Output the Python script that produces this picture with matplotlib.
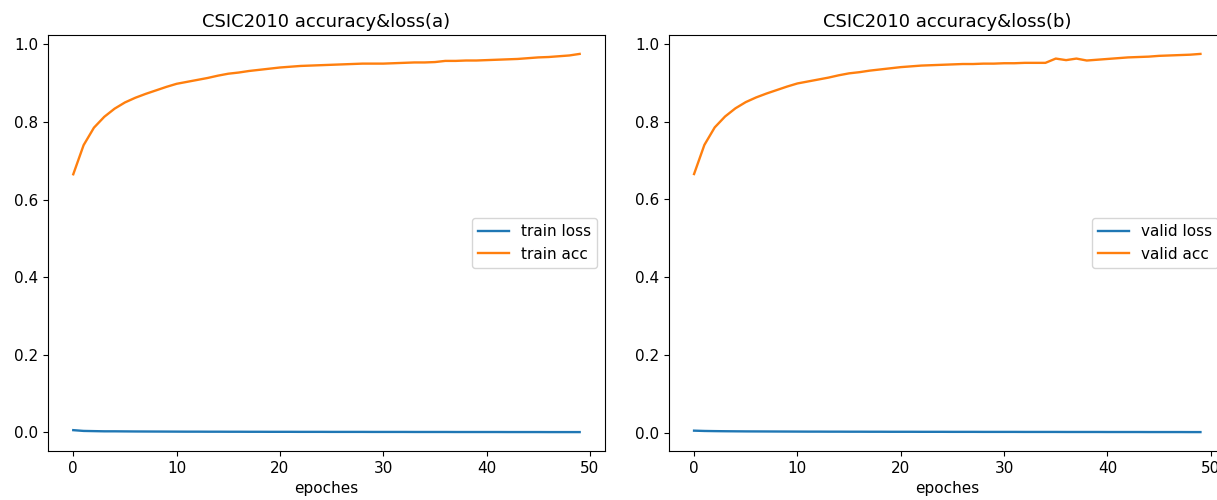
import matplotlib
matplotlib.use('Agg')
import matplotlib.pyplot as plt

epochs = list(range(50))

train_acc = [0.665, 0.740, 0.785, 0.813, 0.834, 0.850, 0.862, 0.872, 0.881, 0.890,
             0.898, 0.903, 0.908, 0.913, 0.919, 0.924, 0.927, 0.931, 0.934, 0.937,
             0.940, 0.942, 0.944, 0.945, 0.946, 0.947, 0.948, 0.949, 0.950, 0.950,
             0.950, 0.951, 0.952, 0.953, 0.953, 0.954, 0.957, 0.957, 0.958, 0.958,
             0.959, 0.960, 0.961, 0.962, 0.964, 0.966, 0.967, 0.969, 0.971, 0.975]
train_loss = [0.006, 0.004, 0.0035, 0.003, 0.003, 0.0028, 0.0026, 0.0025, 0.0024, 0.0023,
              0.0022, 0.0021, 0.0021, 0.002, 0.002, 0.0019, 0.0019, 0.0018, 0.0018, 0.0017,
              0.0017, 0.0017, 0.0016, 0.0016, 0.0016, 0.0015, 0.0015, 0.0015, 0.0015, 0.0014,
              0.0014, 0.0014, 0.0014, 0.0013, 0.0013, 0.0013, 0.0013, 0.0012, 0.0012, 0.0012,
              0.0012, 0.0012, 0.0011, 0.0011, 0.0011, 0.0011, 0.001, 0.001, 0.001, 0.001]

valid_acc = [0.665, 0.740, 0.785, 0.813, 0.834, 0.850, 0.862, 0.872, 0.881, 0.890,
             0.898, 0.903, 0.908, 0.913, 0.919, 0.924, 0.927, 0.931, 0.934, 0.937,
             0.940, 0.942, 0.944, 0.945, 0.946, 0.947, 0.948, 0.948, 0.949, 0.949,
             0.950, 0.950, 0.951, 0.951, 0.951, 0.962, 0.958, 0.962, 0.957, 0.959,
             0.961, 0.963, 0.965, 0.966, 0.967, 0.969, 0.970, 0.971, 0.972, 0.974]
valid_loss = [0.005, 0.0042, 0.0038, 0.0035, 0.0033, 0.0031, 0.003, 0.0029, 0.0028, 0.0027,
              0.0026, 0.0025, 0.0025, 0.0024, 0.0024, 0.0023, 0.0023, 0.0022, 0.0022, 0.0021,
              0.0021, 0.0021, 0.002, 0.002, 0.002, 0.0019, 0.0019, 0.0019, 0.0018, 0.0018,
              0.0018, 0.0018, 0.0017, 0.0017, 0.0017, 0.0017, 0.0016, 0.0016, 0.0016, 0.0016,
              0.0015, 0.0015, 0.0015, 0.0015, 0.0014, 0.0014, 0.0014, 0.0014, 0.0013, 0.0013]

plt.rcParams['font.size'] = 11

fig = plt.figure(figsize=(12.17, 5), dpi=100)
ax_a = fig.add_axes([0.0394, 0.098, 0.4577, 0.832])
ax_b = fig.add_axes([0.5495, 0.098, 0.4577, 0.832])


def draw_panel(ax, loss, acc, loss_name, acc_name, title):
    ax.plot(epochs, loss, color='#1f77b4', lw=1.7, label=loss_name)
    ax.plot(epochs, acc, color='#ff7f0e', lw=1.7, label=acc_name)
    ax.set_title(title, fontsize=13)
    ax.set_xlabel('epoches', fontsize=11)
    ax.tick_params(labelsize=11)
    ax.legend(loc='center right', fontsize=11)


draw_panel(ax_a, train_loss, train_acc, 'train loss', 'train acc', 'CSIC2010 accuracy&loss(a)')
draw_panel(ax_b, valid_loss, valid_acc, 'valid loss', 'valid acc', 'CSIC2010 accuracy&loss(b)')

fig.savefig('out.png', dpi=100)
